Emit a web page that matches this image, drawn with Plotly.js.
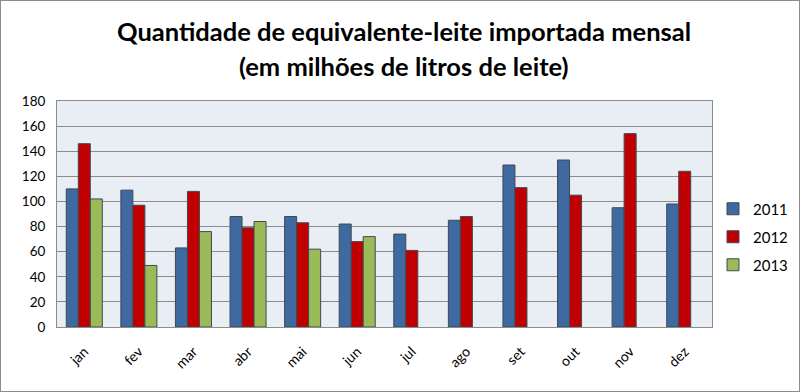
<!DOCTYPE html>
<html><head><meta charset="utf-8">
<script src="https://cdn.plot.ly/plotly-3.0.1.min.js"></script>
<style>
html,body{margin:0;padding:0;background:#fff;}
#wrap{position:absolute;left:0;top:0;width:798px;height:390px;border:1px solid #8c8c8c;}
#chart{position:absolute;left:-1px;top:-1px;width:800px;height:392px;}
</style></head>
<body><div id="wrap"><div id="chart"></div></div>
<script>
const months = ["jan","fev","mar","abr","mai","jun","jul","ago","set","out","nov","dez"];
const v2011 = [110,109,63,88,88,82,74,85,129,133,95,98];
const v2012 = [146,97,108,79,83,68,61,88,111,105,154,124];
const v2013 = [102,49,76,84,62,72,null,null,null,null,null,null];
const yTicks = [0,20,40,60,80,100,120,140,160,180];
const titleLines = ["Quantidade de equivalente-leite importada mensal", "(em milhões de litros de leite)"];

function tr(name, y, color){
  return {type:'bar', name:name, legendgroup:name, x:months, y:y,
    marker:{color:color, line:{color:'#3f4a55', width:1}}, hoverinfo:'skip'};
}
const data = [tr('2011', v2011, '#3f69a1'), tr('2012', v2012, '#c00000'), tr('2013', v2013, '#9bbb59')];
const tfont = {family:'Lato, "Open Sans", sans-serif', size:25.5, color:'#000'};
const layout = {
  width:800, height:392,
  margin:{l:57, r:88, t:101, b:65, autoexpand:false},
  paper_bgcolor:'rgba(0,0,0,0)', plot_bgcolor:'#e9edf4',
  barmode:'group', bargap:0.34, bargroupgap:0,
  annotations:[
    {text:'<b>'+titleLines[0]+'</b>', xref:'paper', yref:'paper', x:(404-57)/655, y:(327-31)/226, xanchor:'center', yanchor:'middle', showarrow:false, font:tfont},
    {text:'<b>'+titleLines[1]+'</b>', xref:'paper', yref:'paper', x:(404-57)/655, y:(327-66)/226, xanchor:'center', yanchor:'middle', showarrow:false, font:tfont}
  ],
  xaxis:{tickangle:-45, tickfont:{family:'Lato, sans-serif', size:14, color:'#000'}, ticklabelstandoff:10,
    showline:true, linecolor:'#8c8c8c', linewidth:1, mirror:true, ticks:'', showgrid:false},
  yaxis:{range:[0,180], tickvals:yTicks, ticktext:yTicks.map(String), ticklabelstandoff:8,
    tickfont:{family:'Lato, sans-serif', size:13.5, color:'#000'},
    showgrid:true, gridcolor:'#8c8c8c', gridwidth:1, showline:true, linecolor:'#8c8c8c', mirror:true, zeroline:false, ticks:''},
  legend:{x:(713-57)/655, xanchor:'left', y:(327-237)/226, yanchor:'middle', font:{family:'Lato, sans-serif', size:15, color:'#000'},
    bgcolor:'rgba(0,0,0,0)', tracegroupgap:5.5, itemwidth:30},
  showlegend:true
};
Plotly.newPlot('chart', data, layout, {displayModeBar:false, staticPlot:true});
</script></body></html>
